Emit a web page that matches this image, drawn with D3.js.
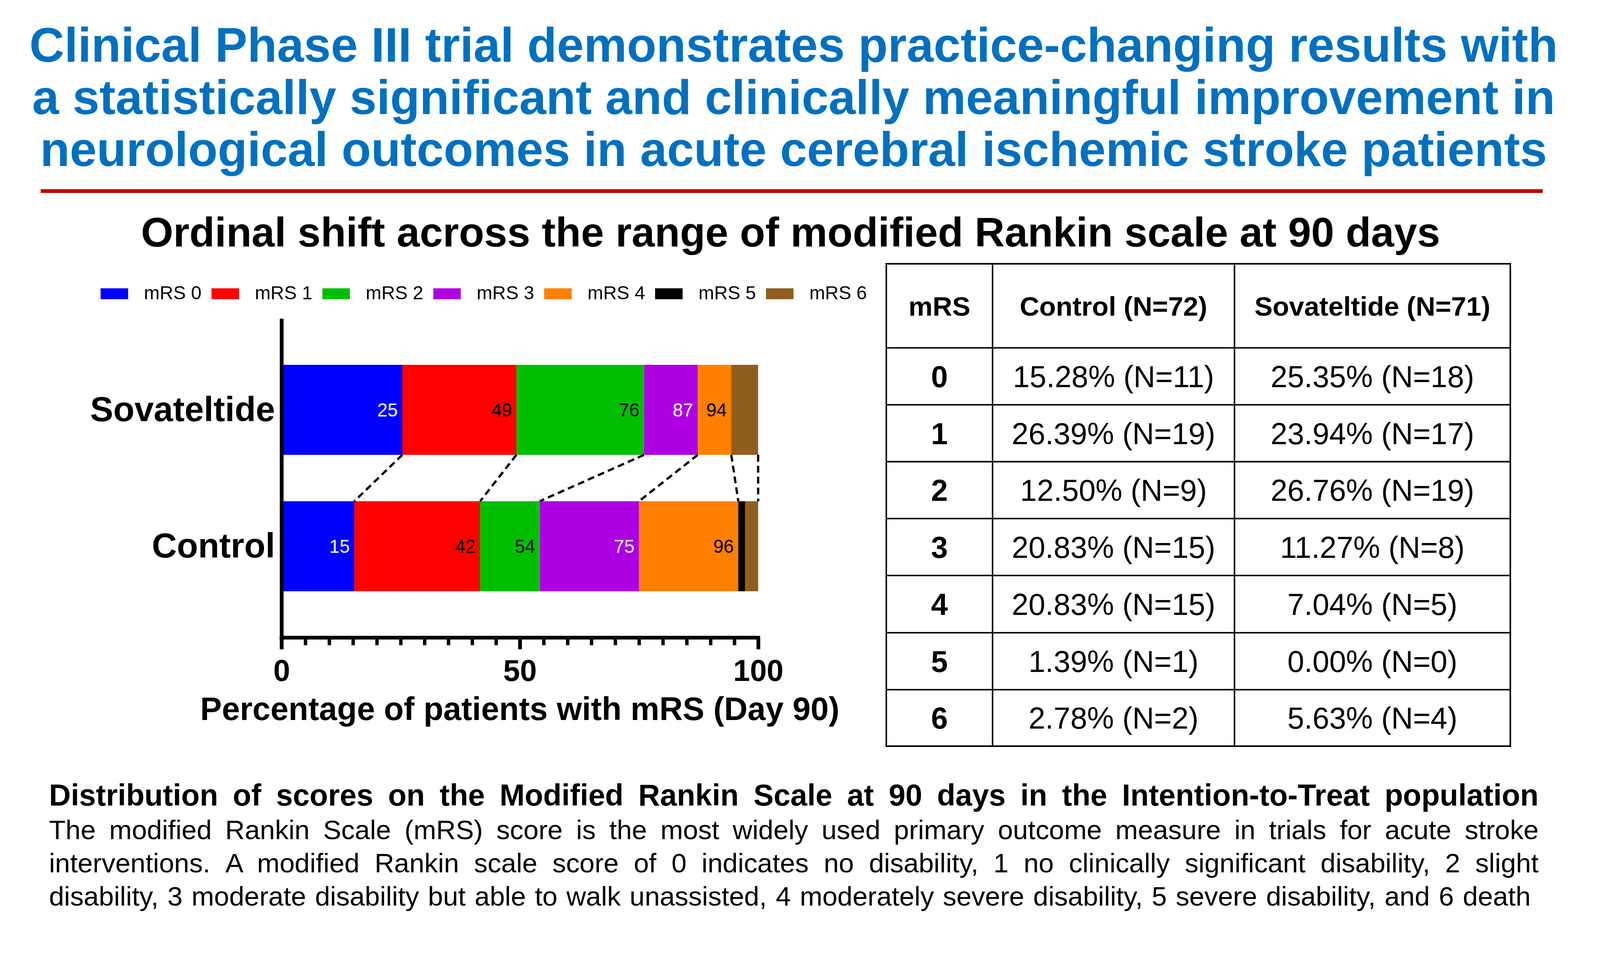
<!DOCTYPE html>
<html>
<head>
<meta charset="utf-8">
<script src="https://cdn.jsdelivr.net/npm/d3@7"></script>
<style>
  html, body { margin: 0; padding: 0; width: 100%; height: 100%; overflow: hidden; background: #fff; }
  #chart { width: 100%; height: 100%; }
  svg { display: block; }
  text { font-family: "Liberation Sans", Arial, sans-serif; }
</style>
</head>
<body>
<div id="chart"></div>
<script>
// data
var groups = ["Sovateltide", "Control"];
var mrsLevels = ["mRS 0", "mRS 1", "mRS 2", "mRS 3", "mRS 4", "mRS 5", "mRS 6"];
var mrsScores = [0, 1, 2, 3, 4, 5, 6];
var sovateltidePct = [25.35, 23.94, 26.76, 11.27, 7.04, 0.00, 5.63];
var controlPct = [15.28, 26.39, 12.50, 20.83, 20.83, 1.39, 2.78];
var sovateltideN = [18, 17, 19, 8, 5, 0, 4];
var controlN = [11, 19, 9, 15, 15, 1, 2];
var controlTotal = 72, sovateltideTotal = 71;
var xMajorTicks = [0, 50, 100];
var xMinorTicks = d3.range(0, 101, 5);
var labelledLevels = [0, 1, 2, 3, 4];      // cumulative labels inside bars
var connectorLevels = [0, 1, 2, 3, 4, 6];  // dashed lines between bars

var titleLines = [
  "Clinical Phase III trial demonstrates practice-changing results with",
  "a statistically significant and clinically meaningful improvement in",
  "neurological outcomes in acute cerebral ischemic stroke patients"
];
var subtitle = "Ordinal shift across the range of modified Rankin scale at 90 days";
var xTitle = "Percentage of patients with mRS (Day 90)";
var noteHeading = "Distribution of scores on the Modified Rankin Scale at 90 days in the Intention-to-Treat population";
var noteLines = [
  "The modified Rankin Scale (mRS) score is the most widely used primary outcome measure in trials for acute stroke",
  "interventions. A modified Rankin scale score of 0 indicates no disability, 1 no clinically significant disability, 2 slight",
  "disability, 3 moderate disability but able to walk unassisted, 4 moderately severe disability, 5 severe disability, and 6 death"
];

var colors = ["#0000ff", "#ff0000", "#00bf00", "#ad00e3", "#ff8000", "#000000", "#8f5e1f"];
var barLabelColors = ["#ffffff", "#000000", "#000000", "#ffffff", "#000000"];

var W = 4246, H = 2465;

// scale the whole drawing to the viewport width, pinned to the top-left
var svg = d3.select("#chart")
    .append("svg")
    .attr("width", "100%")
    .attr("height", "100%")
    .attr("viewBox", "0 0 " + W + " " + H)
    .attr("preserveAspectRatio", "xMinYMin meet");

svg.append("rect").attr("width", W).attr("height", H).attr("fill", "#fff");

// ---- header
svg.append("g")
    .selectAll("text")
    .data(titleLines)
    .enter()
    .append("text")
    .attr("x", 2106)
    .attr("y", function(d, i) { return 164 + i * 138.5; })
    .attr("text-anchor", "middle")
    .style("font-size", "128.5px")
    .style("font-weight", "bold")
    .attr("fill", "#0070c0")
    .text(function(d) { return d; });

svg.append("rect")
    .attr("x", 108).attr("y", 502)
    .attr("width", 4094 - 108).attr("height", 10)
    .attr("fill", "#c00000");

svg.append("text")
    .attr("x", 2098)
    .attr("y", 654)
    .attr("text-anchor", "middle")
    .style("font-size", "110px")
    .style("font-weight", "bold")
    .text(subtitle);

// ---- stacked bar chart
var x = d3.scaleLinear()
    .domain([0, 100])
    .range([747, 2012]);

var y = d3.scaleBand()
    .domain(groups)
    .range([845, 1692])
    .paddingInner(0.34)
    .paddingOuter(0.34);

var rows = groups.map(function(g) {
    var vals = g === "Control" ? controlPct : sovateltidePct;
    var row = {group: g};
    mrsScores.forEach(function(k) { row[k] = vals[k]; });
    return row;
});

var series = d3.stack().keys(mrsScores)(rows);

var plot = svg.append("g");

plot.selectAll("g.layer")
    .data(series)
    .enter()
    .append("g")
    .attr("class", "layer")
    .attr("fill", function(d, i) { return colors[i]; })
    .selectAll("rect")
    .data(function(d) { return d; })
    .enter()
    .append("rect")
    .attr("x", function(d) { return x(d[0]); })
    .attr("y", function(d) { return y(d.data.group); })
    .attr("width", function(d) { return x(d[1]) - x(d[0]); })
    .attr("height", y.bandwidth());

// cumulative labels
labelledLevels.forEach(function(k) {
    plot.selectAll("text.lab" + k)
        .data(series[k])
        .enter()
        .append("text")
        .attr("x", function(d) { return x(d[1]) - 12; })
        .attr("y", function(d) { return y(d.data.group) + y.bandwidth() / 2; })
        .attr("dy", "0.36em")
        .attr("text-anchor", "end")
        .style("font-size", "49px")
        .attr("fill", barLabelColors[k])
        .text(function(d) { return Math.round(d[1]); });
});

// dashed connectors from Sovateltide (bottom) to Control (top)
plot.selectAll("line.conn")
    .data(connectorLevels)
    .enter()
    .append("line")
    .attr("x1", function(k) { return x(series[k][0][1]); })
    .attr("y1", y("Sovateltide") + y.bandwidth())
    .attr("x2", function(k) { return x(series[k][1][1]); })
    .attr("y2", y("Control"))
    .attr("stroke", "#000")
    .attr("stroke-width", 6)
    .attr("stroke-dasharray", "18,11");

// axes
var yAxis = svg.append("g")
    .attr("transform", "translate(" + x(0) + ",0)")
    .call(d3.axisLeft(y).tickSize(0).tickSizeOuter(0).tickPadding(17));
yAxis.select(".domain").attr("stroke-width", 10);
yAxis.selectAll("text")
    .style("font-size", "92px")
    .style("font-weight", "bold")
    .style("font-family", "'Liberation Sans', Arial, sans-serif")
    .attr("fill", "#000");

var xMinor = svg.append("g")
    .attr("transform", "translate(0,1692)")
    .call(d3.axisBottom(x).tickValues(xMinorTicks).tickSize(20).tickSizeOuter(0).tickFormat(""));
xMinor.select(".domain").attr("stroke-width", 10).attr("d", "M742,0H2017");
xMinor.selectAll(".tick line").attr("stroke-width", 9);

var xMajor = svg.append("g")
    .attr("transform", "translate(0,1692)")
    .call(d3.axisBottom(x).tickValues(xMajorTicks).tickSize(31).tickSizeOuter(0).tickPadding(27));
xMajor.select(".domain").remove();
xMajor.selectAll(".tick line").attr("stroke-width", 10);
xMajor.selectAll("text")
    .style("font-size", "80px")
    .style("font-weight", "bold")
    .style("font-family", "'Liberation Sans', Arial, sans-serif")
    .attr("fill", "#000");

svg.append("text")
    .attr("x", (x(0) + x(100)) / 2)
    .attr("y", 1910)
    .attr("text-anchor", "middle")
    .style("font-size", "86px")
    .style("font-weight", "bold")
    .text(xTitle);

// legend
var legend = svg.append("g")
    .selectAll("g")
    .data(mrsLevels)
    .enter()
    .append("g")
    .attr("transform", function(d, i) { return "translate(" + (267 + i * 294.3) + ",0)"; });
legend.append("rect")
    .attr("y", 765)
    .attr("width", 73)
    .attr("height", 29)
    .attr("fill", function(d, i) { return colors[i]; });
legend.append("text")
    .attr("x", 115)
    .attr("y", 794)
    .style("font-size", "50px")
    .text(function(d) { return d; });

// ---- table
var colEdges = [2352, 2634, 3276, 4008];
var rowEdges = [700, 923, 1074, 1225, 1376, 1527, 1679, 1830, 1980];
var table = svg.append("g");

function fmt(p, n) { return p.toFixed(2) + "% (N=" + n + ")"; }

var cells = [["mRS", "Control (N=" + controlTotal + ")", "Sovateltide (N=" + sovateltideTotal + ")"]];
mrsScores.forEach(function(k) {
    cells.push([String(k), fmt(controlPct[k], controlN[k]), fmt(sovateltidePct[k], sovateltideN[k])]);
});

cells.forEach(function(row, r) {
    row.forEach(function(c, j) {
        table.append("text")
            .attr("x", (colEdges[j] + colEdges[j + 1]) / 2)
            .attr("y", (rowEdges[r] + rowEdges[r + 1]) / 2)
            .attr("dy", "0.36em")
            .attr("text-anchor", "middle")
            .style("font-size", r === 0 ? "72px" : "80px")
            .style("font-weight", (r === 0 || j === 0) ? "bold" : "normal")
            .text(c);
    });
});

table.selectAll("line.h")
    .data(rowEdges)
    .enter()
    .append("line")
    .attr("x1", colEdges[0]).attr("x2", colEdges[3])
    .attr("y1", function(d) { return d; }).attr("y2", function(d) { return d; })
    .attr("stroke", "#000").attr("stroke-width", 4)
    .attr("stroke-linecap", "square");
table.selectAll("line.v")
    .data(colEdges)
    .enter()
    .append("line")
    .attr("y1", rowEdges[0]).attr("y2", rowEdges[rowEdges.length - 1])
    .attr("x1", function(d) { return d; }).attr("x2", function(d) { return d; })
    .attr("stroke", "#000").attr("stroke-width", 4)
    .attr("stroke-linecap", "square");

// ---- note under the chart, justified lines
function justify(line, x0, x1, yPos, size, weight) {
    var words = line.split(" ");
    var t = svg.append("text")
        .attr("y", yPos)
        .style("font-size", size + "px")
        .style("font-weight", weight);
    var spans = words.map(function(w, i) {
        return t.append("tspan").text(i < words.length - 1 ? w + " " : w);
    });
    var widths = spans.map(function(s, i) {
        return s.node().getSubStringLength(0, words[i].length);
    });
    var gap = (x1 - x0 - d3.sum(widths)) / (words.length - 1);
    var pos = x0;
    spans.forEach(function(s, i) {
        s.attr("x", pos);
        pos += widths[i] + gap;
    });
}

justify(noteHeading, 130, 4083, 2138, 80, "bold");
noteLines.forEach(function(l, i) {
    justify(l, 130, i === 2 ? 4062 : 4083, 2227 + i * 88, 72, "normal");
});
</script>
</body>
</html>
